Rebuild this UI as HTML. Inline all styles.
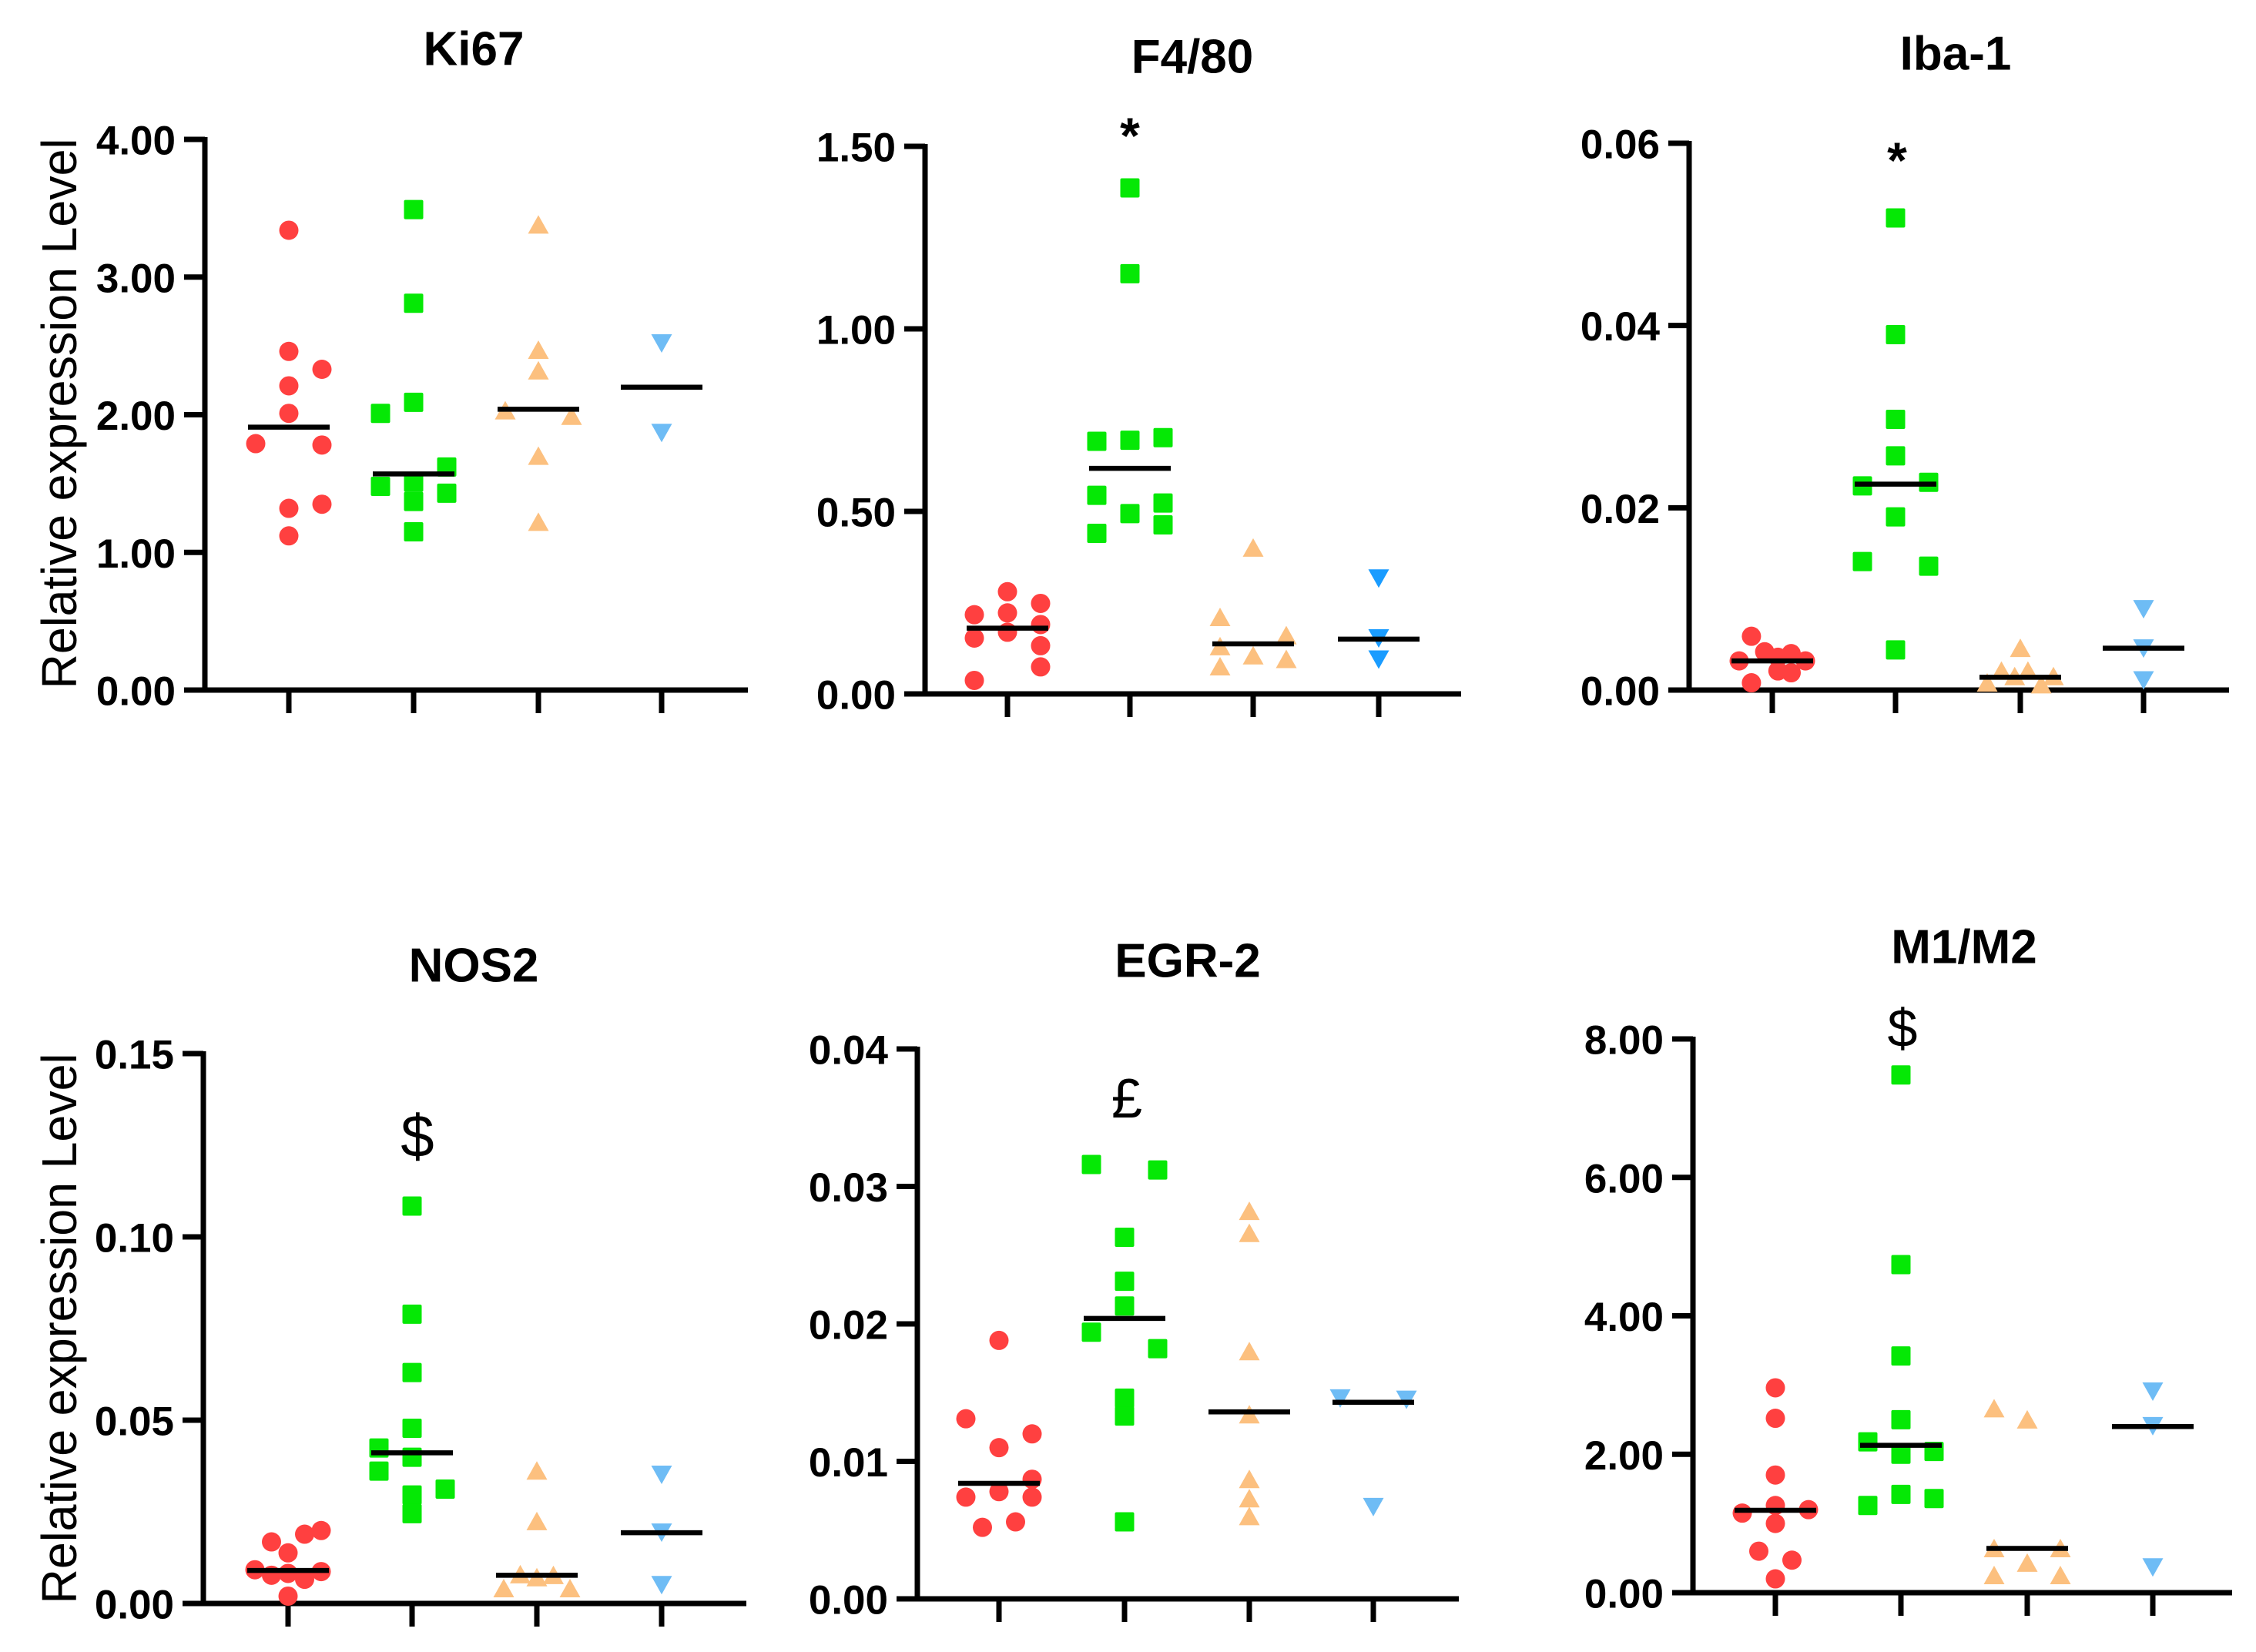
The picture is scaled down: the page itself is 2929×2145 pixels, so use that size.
<!DOCTYPE html>
<html><head><meta charset="utf-8"><style>
html,body{margin:0;padding:0;background:#fff;}
svg{display:block;}
text{font-family:"Liberation Sans",Arial,sans-serif;fill:#000;}
</style></head><body>
<svg id="chart" width="2929" height="2145" viewBox="0 0 2929 2145" xmlns="http://www.w3.org/2000/svg">
<text transform="translate(77,537) rotate(-90)" text-anchor="middle" dominant-baseline="central" font-size="64" textLength="715" lengthAdjust="spacingAndGlyphs">Relative expression Level</text>
<text transform="translate(77,1725) rotate(-90)" text-anchor="middle" dominant-baseline="central" font-size="64" textLength="715" lengthAdjust="spacingAndGlyphs">Relative expression Level</text>
</svg>
<script>
const groupNames = ['control-red','group-green','group-orange','group-blue'];
const groupColors = ['#ff4040','#05e805','#fcc07f','#6ebcf5'];

const ki67Values = [[3.34,2.46,2.33,2.21,2.01,1.79,1.78,1.32,1.35,1.12],[3.49,2.81,2.09,2.01,1.62,1.48,1.51,1.43,1.37,1.15],[3.38,2.47,2.32,2.03,1.99,1.70,1.22],[2.52,1.87]];
const ki67Jitter = [[0,0,1,0,0,-1,1,0,1,0],[0,0,0,-1,1,-1,0,1,0,0],[0,0,0,-1,1,0,0],[0,0]];
const ki67Medians = [1.91,1.57,2.04,2.20];
const ki67Ticks = ['0.00','1.00','2.00','3.00','4.00'];

const f480Values = [[0.28,0.217,0.222,0.248,0.169,0.153,0.19,0.132,0.074,0.037],[1.386,1.151,0.692,0.695,0.702,0.544,0.494,0.523,0.44,0.463],[0.40,0.21,0.16,0.13,0.105,0.095,0.075],[0.317,0.153,0.095]];
const f480Jitter = [[0,-1,0,1,0,-1,1,1,1,-1],[0,0,-1,0,1,-1,0,1,-1,1],[0,-1,1,-1,0,1,-1],[0,0,0]];
const f480Medians = [0.18,0.618,0.137,0.15];
const f480Ticks = ['0.00','0.50','1.00','1.50'];

const ibaValues = [[0.0059,0.0042,0.0036,0.004,0.0032,0.0032,0.0021,0.0019,0.0008],[0.0518,0.039,0.0297,0.0257,0.0224,0.0228,0.019,0.0141,0.0136,0.0044],[0.0046,0.0021,0.0021,0.0015,0.0015,0.0008,0.0006],[0.0089,0.0046,0.0011]];
const ibaJitter = [[-0.63,-0.23,0.17,0.57,-1,1,0.17,0.57,-0.63],[0,0,0,0,-1,1,0,-1,1,0],[0,-0.57,0.23,-0.17,1,-1,0.63],[0,0,0]];
const ibaMedians = [0.0032,0.0226,0.0014,0.0046];
const ibaTicks = ['0.00','0.02','0.04','0.06'];

const nosValues = [[0.0199,0.0189,0.0168,0.0138,0.0092,0.0087,0.0077,0.0082,0.0066,0.002],[0.1084,0.0789,0.063,0.0478,0.0424,0.0399,0.0361,0.0312,0.0296,0.0245],[0.0362,0.0224,0.0079,0.0071,0.0077,0.0041,0.0041],[0.0352,0.0194,0.0051]];
const nosJitter = [[1,0.5,-0.5,0,-1,1,-0.5,0,0.5,0],[0,0,0,0,-1,0,-1,1,0,0],[0,0,-0.5,0,0.5,-1,1],[0,0,0]];
const nosMedians = [0.009,0.0411,0.0077,0.0193];
const nosTicks = ['0.00','0.05','0.10','0.15'];

const egrValues = [[0.0188,0.0131,0.012,0.011,0.0087,0.0078,0.0074,0.0074,0.0056,0.0052],[0.0316,0.0312,0.0263,0.0231,0.0213,0.0194,0.0182,0.0146,0.0133,0.0056],[0.0282,0.0266,0.018,0.0134,0.0087,0.0073,0.006],[0.0146,0.0145,0.0067]];
const egrJitter = [[0,-1,1,0,1,0,-1,1,0.5,-0.5],[-1,1,0,0,0,-1,1,0,0,0],[0,0,0,0,0,0,0],[-1,1,0]];
const egrMedians = [0.0084,0.0204,0.0136,0.0143];
const egrTicks = ['0.00','0.01','0.02','0.03','0.04'];

const m1m2Values = [[2.96,2.52,1.70,1.26,1.2,1.15,1.0,0.6,0.47,0.2],[7.48,4.74,3.42,2.5,2.18,2.0,2.04,1.42,1.36,1.26],[2.66,2.5,0.64,0.64,0.43,0.25,0.25],[2.91,2.41,0.37]];
const m1m2Jitter = [[0,0,0,0,1,-1,0,-0.5,0.5,0],[0,0,0,0,-1,0,1,0,1,-1],[-1,0,-1,1,0,-1,1],[0,0,0]];
const m1m2Medians = [1.19,2.13,0.64,2.40];
const m1m2Ticks = ['0.00','2.00','4.00','6.00','8.00'];

const panels = [
 {id:'ki67',title:'Ki67',tx:615,ty:64,ax:266,yTop:181,y0:896,xEnd:971,gx:[375,537,699,859],max:4,values:ki67Values,jit:ki67Jitter,med:ki67Medians,ticks:ki67Ticks,blue:'#6ebcf5'},
 {id:'f4-80',title:'F4/80',tx:1548,ty:74,ax:1201,yTop:190,y0:901,xEnd:1897,gx:[1308,1467,1627,1790],max:1.5,values:f480Values,jit:f480Jitter,med:f480Medians,ticks:f480Ticks,blue:'#1a9cff',mark:'*',mx:1467,my:176,mfs:66,mbold:true},
 {id:'iba-1',title:'Iba-1',tx:2539,ty:70,ax:2193,yTop:186,y0:896,xEnd:2894,gx:[2301,2461,2623,2783],max:0.06,values:ibaValues,jit:ibaJitter,med:ibaMedians,ticks:ibaTicks,blue:'#6ebcf5',mark:'*',mx:2463,my:208,mfs:66,mbold:true},
 {id:'nos2',title:'NOS2',tx:615,ty:1254,ax:264,yTop:1368,y0:2082,xEnd:969,gx:[374,535,697,859],max:0.15,values:nosValues,jit:nosJitter,med:nosMedians,ticks:nosTicks,blue:'#6ebcf5',mark:'$',mx:542,my:1475,mfs:78,mbold:false},
 {id:'egr-2',title:'EGR-2',tx:1542,ty:1248,ax:1191,yTop:1362,y0:2076,xEnd:1894,gx:[1297,1460,1622,1783],max:0.04,values:egrValues,jit:egrJitter,med:egrMedians,ticks:egrTicks,blue:'#6ebcf5',mark:'£',mx:1463,my:1427,mfs:72,mbold:false},
 {id:'m1-m2',title:'M1/M2',tx:2550,ty:1230,ax:2198,yTop:1349,y0:2068,xEnd:2898,gx:[2305,2468,2632,2795],max:8,values:m1m2Values,jit:m1m2Jitter,med:m1m2Medians,ticks:m1m2Ticks,blue:'#6ebcf5',mark:'$',mx:2470,my:1335,mfs:70,mbold:false}
];

const NS='http://www.w3.org/2000/svg';
const svg=document.getElementById('chart');
function mk(tag,attrs,parent){const e=document.createElementNS(NS,tag);for(const k in attrs)e.setAttribute(k,attrs[k]);(parent||svg).appendChild(e);return e;}
const JIT=43, R=12.5;

panels.forEach(p=>{
  const g=mk('g',{});
  
  
  const yScale=v=>p.y0-(v/p.max)*(p.y0-p.yTop);
  const t=mk('text',{x:p.tx,y:p.ty,'text-anchor':'middle','dominant-baseline':'central','font-size':62,'font-weight':'bold'},g);
  t.textContent=p.title;
  
  
  const ya=mk('line',{x1:p.ax,y1:p.yTop-3,x2:p.ax,y2:p.y0+3,stroke:'#000','stroke-width':7},g);
  
  
  const xa=mk('line',{x1:p.ax-27,y1:p.y0,x2:p.xEnd,y2:p.y0,stroke:'#000','stroke-width':7},g);
  
  
  const n=p.ticks.length-1;
  p.ticks.forEach((lab,i)=>{
    const v=p.max*i/n, y=yScale(v);
    const tk=mk('line',{x1:p.ax-27,y1:y,x2:p.ax,y2:y,stroke:'#000','stroke-width':7},g);
    
    
    const tl=mk('text',{x:p.ax-38,y:y+2,'text-anchor':'end','dominant-baseline':'central','font-size':53,'font-weight':'bold'},g);
    tl.textContent=lab;
    
    
  });
  p.gx.forEach((x,gi)=>{
    const xt=mk('line',{x1:x,y1:p.y0,x2:x,y2:p.y0+30,stroke:'#000','stroke-width':7},g);
    
    
    const col=gi===3?p.blue:groupColors[gi];
    p.values[gi].forEach((v,k)=>{
      const cx=x+p.jit[gi][k]*JIT, cy=yScale(v);
      let m;
      if(gi===0) m=mk('circle',{cx:cx,cy:cy,r:R,fill:col},g);
      else if(gi===1) m=mk('rect',{x:cx-R,y:cy-R,width:2*R,height:2*R,rx:2,fill:col},g);
      else if(gi===2) m=mk('polygon',{points:`${cx},${cy-R} ${cx+R+1},${cy+R-1} ${cx-R-1},${cy+R-1}`,fill:col},g);
      else m=mk('polygon',{points:`${cx-R-1},${cy-R+1} ${cx+R+1},${cy-R+1} ${cx},${cy+R}`,fill:col},g);
      
      
    });
    const my=yScale(p.med[gi]);
    const ml=mk('line',{x1:x-53,y1:my,x2:x+53,y2:my,stroke:'#000','stroke-width':6.5},g);
    
    
  });
  if(p.mark){
    const s=mk('text',{x:p.mx,y:p.my,'text-anchor':'middle','dominant-baseline':'central','font-size':p.mfs,'font-weight':p.mbold?'bold':'normal'},g);
    s.textContent=p.mark;
    
    
  }
});
</script>
</body></html>
